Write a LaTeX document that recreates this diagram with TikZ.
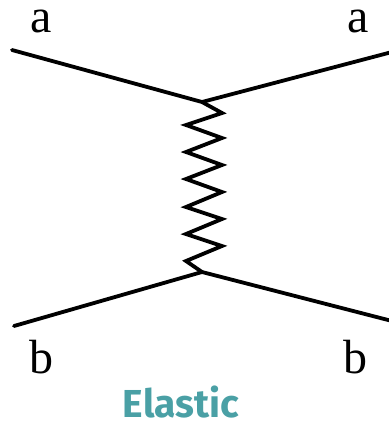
\documentclass[tikz,border=0pt]{standalone}
\usepackage{fontspec}
\setmainfont{Liberation Serif}
\newfontfamily\labelfont{Fira Sans}
\definecolor{tealtxt}{HTML}{4AA0A5}
\begin{document}
\begin{tikzpicture}[x=1pt,y=-1pt,
  line/.style={line width=3.8pt,line cap=round,line join=miter},
  lbl/.style={anchor=base,inner sep=0pt,font=\fontsize{48}{48}\selectfont},
  title/.style={anchor=base,inner sep=0pt,text=tealtxt,font=\labelfont\bfseries\fontsize{39}{39}\selectfont}]
\useasboundingbox (0,0) rectangle (389,424);
\coordinate (vtop) at (202,102);
\coordinate (vbot) at (202,272);
\coordinate (ain) at (12,50);
\coordinate (aout) at (392,52);
\coordinate (bin) at (14,326);
\coordinate (bout) at (392,321);
\draw[line] (ain) -- (vtop) -- (aout);
\draw[line] (bin) -- (vbot) -- (bout);
\draw[line,line join=miter] (vtop) -- (222,113) -- (186,125) -- (222,138) -- (186,152) -- (222,165) -- (186,179) -- (222,192) -- (186,207) -- (222,219) -- (186,234) -- (222,246) -- (186,261) -- (vbot);
\node[lbl] (a1) at (41.5,32) {a};
\node[lbl] (a2) at (358.5,32) {a};
\node[lbl] (b1) at (41,373) {b};
\node[lbl] (b2) at (355,373) {b};
\node[title] (el) at (181,417) {Elastic};
\end{tikzpicture}
\end{document}
